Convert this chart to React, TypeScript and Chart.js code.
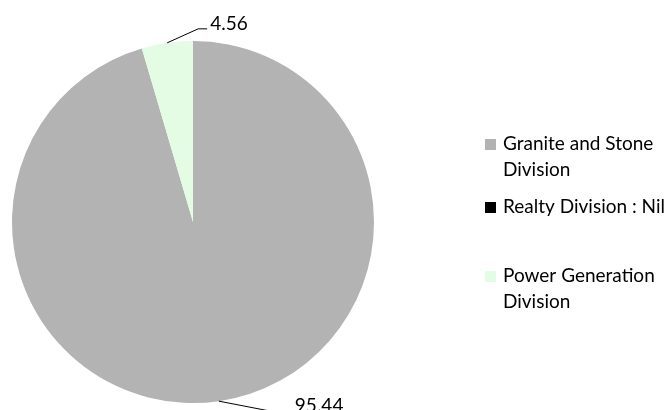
import { useEffect, useRef } from "react";
import { Chart, registerables } from "chart.js";

Chart.register(...registerables);

const categories = ["Granite and Stone\nDivision", "Realty Division : Nil", "Power Generation\nDivision"];
const shares = [95.44, 0, 4.56];
const sliceColors = ["#b3b3b3", "#000000", "#e3fce3"];

const FONT = "Lato, 'Open Sans', sans-serif";

const overlayPlugin = {
  id: "overlay",
  afterDatasetsDraw(chart: any) {
    const ctx = chart.ctx as CanvasRenderingContext2D;
    const meta = chart.getDatasetMeta(0);
    ctx.save();
    ctx.fillStyle = "#000";
    ctx.strokeStyle = "#000";
    ctx.lineWidth = 1;
    ctx.font = `19px ${FONT}`;
    // value labels with leader lines
    meta.data.forEach((arc: any, i: number) => {
      const v = shares[i];
      if (!v) return;
      const p = arc.getProps(["x", "y", "startAngle", "endAngle", "outerRadius"], true);
      const mid = (p.startAngle + p.endAngle) / 2;
      const ax = p.x + Math.cos(mid) * p.outerRadius;
      const ay = p.y + Math.sin(mid) * p.outerRadius;
      ctx.textAlign = "left";
      ctx.textBaseline = "alphabetic";
      ctx.beginPath();
      if (Math.sin(mid) < 0) {
        ctx.moveTo(ax, ay);
        ctx.lineTo(ax + 31, ay - 14);
        ctx.lineTo(ax + 40, ay - 14);
        ctx.stroke();
        ctx.fillText(v.toFixed(2), ax + 43, ay - 13);
      } else {
        ctx.moveTo(ax, ay);
        ctx.lineTo(ax + 62, ay + 12);
        ctx.lineTo(ax + 72, ay + 12);
        ctx.stroke();
        ctx.fillText(v.toFixed(2), ax + 76, ay + 11);
      }
    });
    // legend
    const rowY = [144, 207, 276];
    const lineH = 26;
    ctx.textBaseline = "middle";
    categories.forEach((c, i) => {
      const y0 = rowY[i];
      ctx.fillStyle = sliceColors[i];
      ctx.fillRect(485, Math.round(y0 - 5.5), 11, 11);
      ctx.fillStyle = "#000";
      c.split("\n").forEach((line, k) => {
        ctx.fillText(line, 503, y0 + k * lineH);
      });
    });
    ctx.restore();
  },
};

export default function App() {
  const ref = useRef<HTMLCanvasElement | null>(null);
  useEffect(() => {
    document.body.style.margin = "0";
    const canvas = ref.current;
    if (!canvas) return;
    const chart = new Chart(canvas, {
      type: "pie",
      data: {
        labels: categories.map((c) => c.replace("\n", " ")),
        datasets: [
          {
            data: shares,
            backgroundColor: sliceColors,
            borderWidth: 0,
          },
        ],
      },
      options: {
        animation: false,
        responsive: false,
        devicePixelRatio: 1,
        layout: { padding: { left: 12, right: 295, top: 41, bottom: 7 } },
        plugins: {
          legend: { display: false },
          tooltip: { enabled: false },
        },
      },
      plugins: [overlayPlugin],
    });
    return () => chart.destroy();
  }, []);
  return (
    <div style={{ width: 669, height: 410, background: "#fff" }}>
      <canvas ref={ref} width={669} height={410} />
    </div>
  );
}
